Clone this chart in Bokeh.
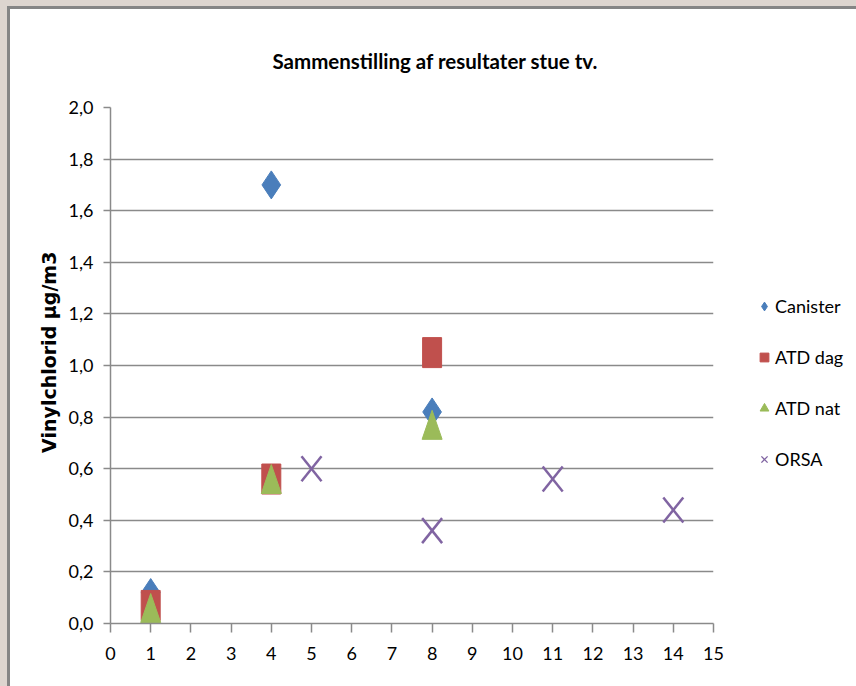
import numpy as np
from bokeh.plotting import figure
from bokeh.models import (FixedTicker, CustomJSTickFormatter,
                          Legend, LegendItem)
from bokeh.layouts import column, row
from bokeh.embed import file_html
from bokeh.resources import INLINE

# Vinylchlorid measurements (µg/m3) per sampling method
canister_x = [1, 4, 8]
canister_y = [0.12, 1.70, 0.82]

atd_dag_x = [1, 4, 8]
atd_dag_y = [0.07, 0.56, 1.05]

atd_nat_x = [1, 4, 8]
atd_nat_y = [0.06, 0.56, 0.77]

orsa_x = [5, 8, 11, 14]
orsa_y = [0.60, 0.36, 0.56, 0.44]

x_ticks = list(range(0, 16))
y_ticks = [0.0, 0.2, 0.4, 0.6, 0.8, 1.0, 1.2, 1.4, 1.6, 1.8, 2.0]

BLUE = "#4A7EBB"
RED = "#C0504D"
GREEN = "#9BBB59"
PURPLE = "#8064A2"
GRID = "#8A8A8A"
FONT = "Lato"

# overall canvas and chart frame geometry (pixels)
W_ALL, H = 846, 677
W1 = 723                      # width of the chart part, rest holds the legend
ML, MT, MB = 100, 98, 63
FW = 603
MR = W1 - ML - FW
FH = H - MT - MB
X0, X1, Y0, Y1 = 0, 15, 0, 2

p = figure(width=W1, height=H, x_range=(X0, X1), y_range=(Y0, Y1),
           output_backend="svg", toolbar_location=None,
           min_border_left=ML, min_border_right=MR,
           min_border_top=MT, min_border_bottom=MB,
           title="Sammenstilling af resultater stue tv.")

p.title.align = "left"
p.title.offset = 162
p.title.text_font = FONT
p.title.text_font_size = "20.5px"
p.title.text_font_style = "bold"
p.title.text_color = "#000000"
p.title.standoff = 69

p.background_fill_color = "white"
p.border_fill_color = "white"
p.outline_line_color = None

p.xgrid.visible = False
p.ygrid.grid_line_color = GRID
p.ygrid.grid_line_width = 1.5

for ax in (p.xaxis[0], p.yaxis[0]):
    ax.axis_line_color = GRID
    ax.axis_line_width = 1.5
    ax.major_tick_line_color = GRID
    ax.major_tick_line_width = 1.5
    ax.major_tick_in = 0
    ax.minor_tick_line_color = None
    ax.major_label_text_font = FONT
    ax.major_label_text_font_size = "18px"
    ax.major_label_text_color = "#000000"

p.xaxis.ticker = FixedTicker(ticks=x_ticks)
p.yaxis.ticker = FixedTicker(ticks=y_ticks)
p.yaxis.formatter = CustomJSTickFormatter(
    code="return tick.toFixed(1).replace('.', ',');")
p.xaxis.major_tick_out = 9
p.yaxis.major_tick_out = 7
p.xaxis.major_label_standoff = 14
p.yaxis.major_label_standoff = 10

# leading no-break spaces nudge the centred label slightly upwards
p.yaxis.axis_label = "\u00a0\u00a0\u00a0\u00a0Vinylchlorid µg/m3"
p.yaxis.axis_label_text_font = "DejaVu Sans"
p.yaxis.axis_label_text_font_style = "bold"
p.yaxis.axis_label_text_font_size = "19px"
p.yaxis.axis_label_text_color = "#000000"
p.yaxis.axis_label_standoff = 6

# pixel -> data unit conversions for marker shapes
px_x = (X1 - X0) / FW
px_y = (Y1 - Y0) / FH

# Canister: diamonds
p.scatter(canister_x, canister_y, marker="diamond", size=28,
          fill_color=BLUE, line_color=BLUE)

# ATD dag: tall squares
p.rect(atd_dag_x, atd_dag_y, width=19, height=30,
       width_units="screen", height_units="screen",
       fill_color=RED, line_color=RED)

# ATD nat: tall triangles
hw, hh = 10 * px_x, 14.5 * px_y
tri_xs = [[x - hw, x + hw, x] for x in atd_nat_x]
tri_ys = [[y - hh, y - hh, y + hh] for y in atd_nat_y]
p.patches(tri_xs, tri_ys, fill_color=GREEN, line_color=GREEN)

# ORSA: crosses
cw, ch = 10 * px_x, 12.5 * px_y
ox = np.array(orsa_x, dtype=float)
oy = np.array(orsa_y, dtype=float)
p.segment(np.r_[ox - cw, ox - cw], np.r_[oy - ch, oy + ch],
          np.r_[ox + cw, ox + cw], np.r_[oy + ch, oy - ch],
          line_color=PURPLE, line_width=2.5)

# legend panel beside the chart
W2 = W_ALL - W1
q = figure(width=W2, height=H, output_backend="svg", toolbar_location=None,
           min_border=0, x_axis_type=None, y_axis_type=None)
q.outline_line_color = None
q.grid.visible = False
q.background_fill_color = "white"
q.border_fill_color = "white"

lg_c = q.scatter(canister_x, canister_y, marker="diamond",
                 fill_color=BLUE, line_color=BLUE, visible=False)
lg_d = q.scatter(atd_dag_x, atd_dag_y, marker="square",
                 fill_color=RED, line_color=RED, visible=False)
lg_n = q.scatter(atd_nat_x, atd_nat_y, marker="triangle",
                 fill_color=GREEN, line_color=GREEN, visible=False)
lg_o = q.scatter(orsa_x, orsa_y, marker="x",
                 line_color=PURPLE, line_width=1.3, visible=False)

legend = Legend(items=[
    LegendItem(label="Canister", renderers=[lg_c]),
    LegendItem(label="ATD dag", renderers=[lg_d]),
    LegendItem(label="ATD nat", renderers=[lg_n]),
    LegendItem(label="ORSA", renderers=[lg_o]),
], location=(20, 151))
legend.border_line_color = None
legend.background_fill_alpha = 0
legend.inactive_fill_alpha = 0
legend.label_text_font = FONT
legend.label_text_font_size = "18px"
legend.label_text_color = "#000000"
legend.glyph_width = 22
legend.glyph_height = 26
legend.label_standoff = 0
legend.label_height = 26
legend.spacing = 25
legend.padding = 0
legend.margin = 0
q.add_layout(legend, "center")

chart = row(p, q, margin=(3, 0, 0, 3),
            styles={"background-color": "white"})
edge = column(chart, margin=(6, 0, 0, 7),
              styles={"background-color": "#858585"})
page = column(edge, styles={"background-color": "#DDD5CF"},
              width=856, height=686)

open("out.html", "w").write(file_html(page, INLINE))
